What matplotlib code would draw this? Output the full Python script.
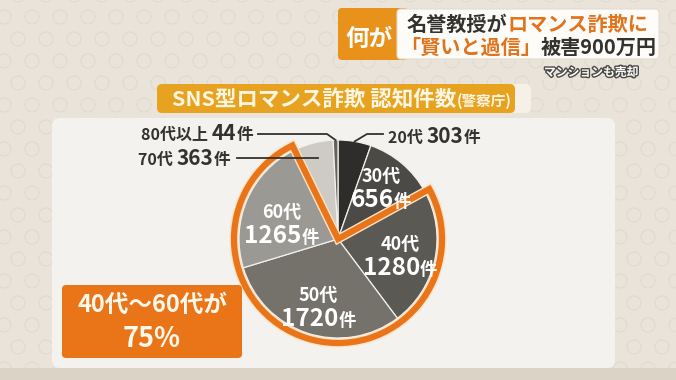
"""
Recreation of a TV news graphic: SNS romance-scam cases by age group (pie).
"""

import matplotlib

matplotlib.use("Agg")
import matplotlib.pyplot as plt
import numpy as np
from matplotlib.patches import FancyBboxPatch, Rectangle, Wedge, Circle
import matplotlib.patheffects as pe

plt.rcParams["font.family"] = ["Noto Sans CJK JP", "DejaVu Sans"]
plt.rcParams["font.weight"] = "bold"

W, H = 676, 380

# data
ages = ["20代", "30代", "40代", "50代", "60代", "70代", "80代以上"]
counts = [303, 656, 1280, 1720, 1265, 363, 44]
slice_colors = ["#2e2d2b", "#4b4a46", "#5a5954", "#74726b", "#9b9993", "#cdcbc4", "#62615d"]
highlight = [2, 3, 4]           # 40代..60代
share_text = "75%"

title = "SNS型ロマンス詐欺 認知件数"
source = "(警察庁)"
head_tag = "何が"
head_line1 = [("名誉教授が", "dark"), ("ロマンス詐欺に", "orange")]
head_line2 = [("「賢いと過信」", "orange"), ("被害900万円", "dark")]
head_sub = "マンションも売却"
callout = "40代～60代が"

DARK = "#333230"
ORANGE = "#ea7418"
GOLD = "#e7a320"

fig = plt.figure(figsize=(W / 100, H / 100), dpi=100)
ax = fig.add_axes([0, 0, 1, 1])
fig.patch.set_facecolor("#e9e3d9")
renderer = fig.canvas.get_renderer()


def runs(x, y, parts, color="white", ha="center", **kw):
    """Draw text pieces of mixed size on one baseline."""
    objs = []
    for s, size in parts:
        objs.append(ax.text(0, y, s, fontsize=size, color=color, va="baseline",
                            ha="left", zorder=10, **kw))
    widths = [o.get_window_extent(renderer).width for o in objs]
    total = sum(widths)
    x0 = {"center": x - total / 2, "left": x, "right": x - total}[ha]
    for o, w in zip(objs, widths):
        o.set_x(x0)
        x0 += w
    return objs


# background pattern of faint rings
for row, yy in enumerate(np.arange(-5, H + 20, 22)):
    for col, xx in enumerate(np.arange(-10 + (row % 2) * 14, W + 20, 28)):
        ax.add_patch(Circle((xx, yy), 7, fill=False, ec="#e0d8cc", lw=0.7, zorder=0))
ax.add_patch(Rectangle((0, 368), W, 12, fc="#dcd3c7", ec="none", zorder=0.5))

# white panel
ax.add_patch(FancyBboxPatch((52, 118), 563, 250, boxstyle="round,pad=0,rounding_size=8",
                            fc="#f4f2ee", ec="none", zorder=1))

# title bar
ax.add_patch(FancyBboxPatch((505, 84), 26, 29, boxstyle="round,pad=0,rounding_size=6",
                            fc="#f6f1e6", ec="none", zorder=2))
ax.add_patch(FancyBboxPatch((157, 84), 358, 29, boxstyle="round,pad=0,rounding_size=5",
                            fc=GOLD, ec="none", zorder=3))
runs(172, 106, [(title, 15.5), (source, 10.5)], color="#fdf6e3", ha="left")

# headline banner
ax.add_patch(FancyBboxPatch((338, 8), 70, 52, boxstyle="round,pad=0,rounding_size=4",
                            fc="#e8911b", ec="none", zorder=2))
ax.add_patch(FancyBboxPatch((397, 9), 262, 50, boxstyle="round,pad=0,rounding_size=4",
                            fc="#fdfcf9", ec="#e3ddd2", lw=0.8, zorder=3))
ax.text(369, 46, head_tag, fontsize=17, color="white", ha="center", va="baseline", zorder=10)
cmap = {"dark": DARK, "orange": "#e0731c"}
xs = 407
for s, c in head_line1:
    o = ax.text(xs, 31, s, fontsize=14.5, color=cmap[c], va="baseline", ha="left", zorder=10)
    xs += o.get_window_extent(renderer).width
xs = 400
for s, c in head_line2:
    o = ax.text(xs, 54, s, fontsize=14.5, color=cmap[c], va="baseline", ha="left", zorder=10)
    xs += o.get_window_extent(renderer).width
ax.text(638, 76, head_sub, fontsize=8.5, color="white", ha="right", va="baseline", zorder=10,
        path_effects=[pe.withStroke(linewidth=2, foreground="#4a4744")])

# pie (y axis points down, so angles run counterclockwise in data space)
cx, cy, R = 338, 239, 99
wedges, _ = ax.pie(counts, colors=slice_colors, startangle=-90, counterclock=True,
                   center=(cx, cy), radius=R, frame=True,
                   wedgeprops=dict(edgecolor="#f2f0ea", linewidth=0.9))
for w in wedges:
    w.set_zorder(4)

# orange outline around 40代..60代
th1 = wedges[highlight[0]].theta1
th2 = wedges[highlight[-1]].theta2
ax.add_patch(Wedge((cx, cy), R + 5, th1, th2, fill=False, ec="#fbe3c8", lw=6.5,
                   joinstyle="miter", zorder=5))
ax.add_patch(Wedge((cx, cy), R + 5, th1, th2, fill=False, ec=ORANGE, lw=4.5,
                   joinstyle="miter", zorder=6))


def mid(i, r):
    w = wedges[i]
    a = np.deg2rad((w.theta1 + w.theta2) / 2)
    return cx + r * R * np.cos(a), cy + r * R * np.sin(a)


# labels inside slices
inside = {1: (0.67, -4), 2: (0.64, 0), 3: (0.64, 4), 4: (0.62, 6)}
for i, (rf, dy) in inside.items():
    x, y = mid(i, rf)
    y += dy
    runs(x, y - 2, [(ages[i], 13)])
    runs(x, y + 23, [(str(counts[i]), 17.5), ("件", 12.5)])

# outside labels with leader lines
x, y = mid(0, 1.0)
ax.plot([383, 367, x], [134, 134, y], color=DARK, lw=1.3, zorder=7)
runs(388, 143, [(ages[0] + " ", 11.5), (str(counts[0]), 15), ("件", 12)], color=DARK, ha="left")

x, y = mid(6, 1.0)
ax.plot([258, 327, x], [134, 134, y], color=DARK, lw=1.3, zorder=7)
runs(253, 140, [(ages[6] + " ", 11.5), (str(counts[6]), 15), ("件", 12)], color=DARK, ha="right")

x, y = mid(5, 0.82)
ax.plot([237, x], [158, 158], color=DARK, lw=1.3, zorder=7)
runs(230, 165, [(ages[5] + " ", 11.5), (str(counts[5]), 15), ("件", 12)], color=DARK, ha="right")

# callout box
ax.add_patch(FancyBboxPatch((62, 285), 180, 73, boxstyle="round,pad=0,rounding_size=4",
                            fc=ORANGE, ec="none", zorder=8))
ax.text(152, 312, callout, fontsize=17, color="#fff8ec", ha="center", va="baseline", zorder=10)
ax.text(152, 347, share_text, fontsize=19.5, color="#fff8ec", ha="center", va="baseline", zorder=10)

ax.set_xlim(0, W)
ax.set_ylim(H, 0)
ax.set_aspect("auto")
ax.axis("off")
fig.savefig("out.png", dpi=100, facecolor=fig.get_facecolor())
